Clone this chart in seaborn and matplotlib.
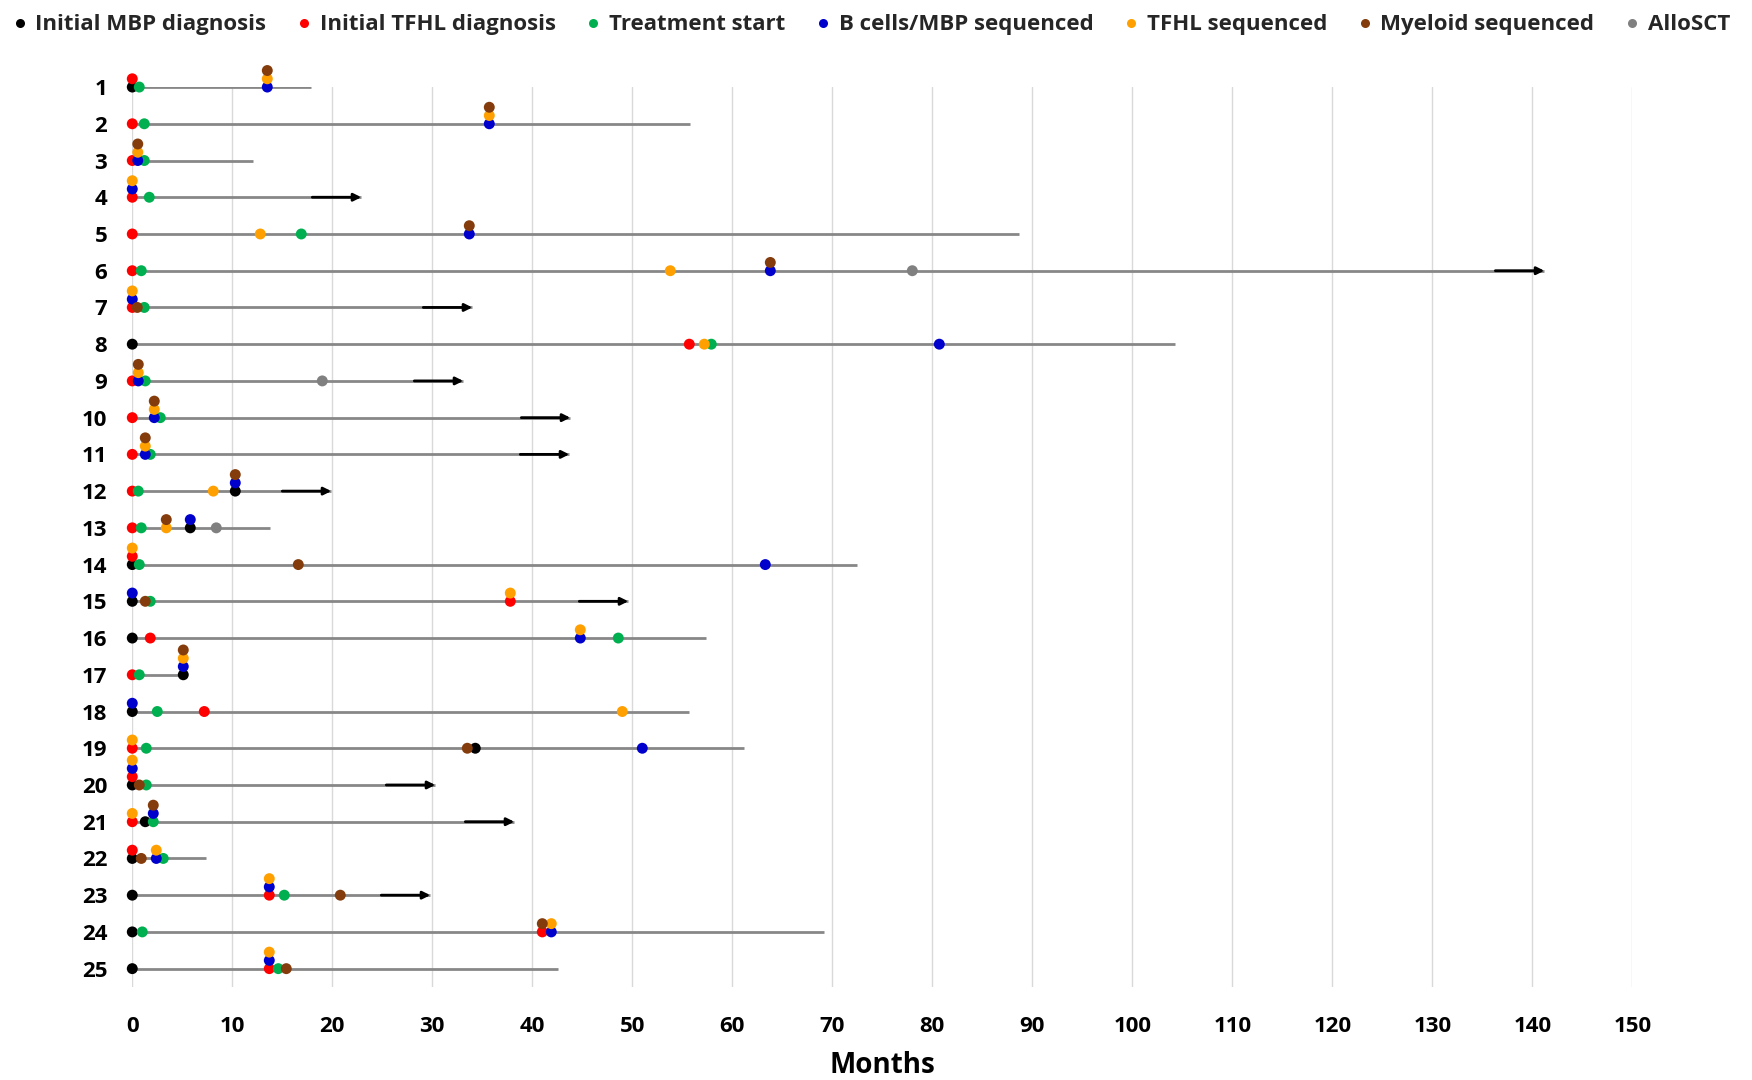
import numpy as np
import pandas as pd
import matplotlib
matplotlib.use("Agg")
import matplotlib.pyplot as plt
from matplotlib.lines import Line2D
import seaborn as sns

# ---------------- data (months) ----------------
patients = list(range(1, 26))
N = np.nan
mbp_dx     = [0, N, N, N, N, N, N, 0, N, N, N, 10.3, 5.8, 0, 0, 0, 5.1, 0, 34.3, 0, 1.3, 0, 0, 0, 0]
tfhl_dx    = [0, 0, 0, 0, 0, 0, 0, 55.7, 0, 0, 0, 0, 0, 0, 37.8, 1.8, 0, 7.2, 0, 0, 0, 0, 13.7, 41.0, 13.7]
treatment  = [0.7, 1.2, 1.2, 1.7, 16.9, 0.9, 1.2, 57.9, 1.3, 2.8, 1.8, 0.6, 0.9, 0.7, 1.8, 48.6, 0.7, 2.5, 1.4, 1.4, 2.1, 3.1, 15.2, 1.0, 14.6]
bcell_seq  = [13.5, 35.7, 0.55, 0, 33.7, 63.8, 0, 80.7, 0.6, 2.2, 1.3, 10.3, 5.8, 63.3, 0, 44.8, 5.1, 0, 51.0, 0, 2.1, 2.4, 13.7, 41.9, 13.7]
tfhl_seq   = [13.5, 35.7, 0.55, 0, 12.8, 53.8, 0, 57.2, 0.6, 2.2, 1.3, 8.1, 3.4, 0, 37.8, 44.8, 5.1, 49.0, 0, 0, 0, 2.4, 13.7, 41.9, 13.7]
myeloid    = [13.5, 35.7, 0.55, N, 33.7, 63.8, 0.5, N, 0.6, 2.2, 1.3, 10.3, 3.4, 16.6, 1.3, N, 5.1, N, 33.5, 0.7, 2.1, 0.9, 20.8, 41.0, 15.4]
allosct    = [N, N, N, N, N, 78.0, N, N, 19.0, N, N, N, 8.4, N, N, N, N, N, N, N, N, N, N, N, N]
follow_up  = [17.9, 55.8, 12.1, 22.9, 88.7, 141.2, 34.0, 104.3, 33.1, 43.8, 43.7, 19.9, 13.8, 72.5, 49.6, 57.4, 5.1, 55.7, 61.2, 30.3, 38.2, 7.4, 29.8, 69.2, 42.6]
ongoing    = [0, 0, 0, 1, 0, 1, 1, 0, 1, 1, 1, 1, 0, 0, 1, 0, 0, 0, 0, 1, 1, 0, 1, 0, 0]

event_names = ["Initial MBP diagnosis", "Initial TFHL diagnosis", "Treatment start",
               "B cells/MBP sequenced", "TFHL sequenced", "Myeloid sequenced", "AlloSCT"]
event_values = [mbp_dx, tfhl_dx, treatment, bcell_seq, tfhl_seq, myeloid, allosct]
event_colors = ["#000000", "#FF0000", "#00B050", "#0000CC", "#FFA000", "#843C0C", "#808080"]
x_ticks = list(range(0, 151, 10))

# ---------------- long table with stacking level ----------------
STACK = 0.225  # vertical offset (row units) for events sharing the same time
rows = []
for i, p in enumerate(patients):
    seen = {}
    for k, (name, vals) in enumerate(zip(event_names, event_values)):
        t = vals[i]
        if t is None or (isinstance(t, float) and np.isnan(t)):
            continue
        key = round(float(t), 2)
        lvl = seen.get(key, 0)
        seen[key] = lvl + 1
        rows.append(dict(patient=p, event=name, order=k, time=float(t), y=p - lvl * STACK))
df = pd.DataFrame(rows).sort_values(["patient", "order"]).reset_index(drop=True)

# ---------------- figure ----------------
sns.set_theme(style="white")
FONT = ["Open Sans", "DejaVu Sans"]
plt.rcParams["font.family"] = FONT
plt.rcParams["font.weight"] = "bold"

fig = plt.figure(figsize=(17.52, 10.8), dpi=100)
ax = fig.add_axes([0.0755, 0.0861, 0.8562, 0.8333])

# swimmer lanes
ax.hlines(patients, 0, follow_up, color="#878787", lw=2.0, zorder=1)
# ongoing arrows
ARROW = 4.9
for p, end, on in zip(patients, follow_up, ongoing):
    if on:
        ax.annotate("", xy=(end, p), xytext=(end - ARROW, p),
                    arrowprops=dict(arrowstyle="-|>", color="black", lw=2.0,
                                    mutation_scale=11, shrinkA=0, shrinkB=0),
                    zorder=2)

palette = dict(zip(event_names, event_colors))
sns.scatterplot(data=df, x="time", y="y", hue="event", hue_order=event_names,
                palette=palette, s=62, linewidth=0, ax=ax, legend=False,
                clip_on=False, zorder=3)

ax.set_xlim(0, 150)
ax.set_ylim(25.5, 1.0)
ax.set_xticks(x_ticks)
ax.set_xticklabels([str(v) for v in x_ticks])
ax.set_yticks(patients)
ax.set_yticklabels([str(p) for p in patients])
ax.tick_params(axis="x", length=0, pad=21, labelsize=16)
ax.tick_params(axis="y", length=0, pad=18, labelsize=16)
for lab in ax.get_xticklabels() + ax.get_yticklabels():
    lab.set_fontweight("bold")
    lab.set_color("black")
    lab.set_family(FONT)
ax.grid(axis="x", color="#D9D9D9", lw=1.0)
ax.grid(axis="y", visible=False)
ax.set_axisbelow(True)
for s in ax.spines.values():
    s.set_visible(False)
ax.set_xlabel("Months", fontsize=20, fontweight="bold", color="black", labelpad=10,
              family=FONT)
ax.set_ylabel("")

handles = [Line2D([0], [0], marker="o", linestyle="none", markersize=6.5,
                  markerfacecolor=c, markeredgewidth=0, label=n)
           for n, c in zip(event_names, event_colors)]
leg = fig.legend(handles=handles, loc="center left", bbox_to_anchor=(0.003, 0.977),
                 ncol=7, frameon=False, handlelength=0.5, handletextpad=0.45,
                 columnspacing=1.45, borderaxespad=0,
                 prop=dict(family=FONT, weight="bold", size=16))

fig.savefig("out.png", dpi=100)
